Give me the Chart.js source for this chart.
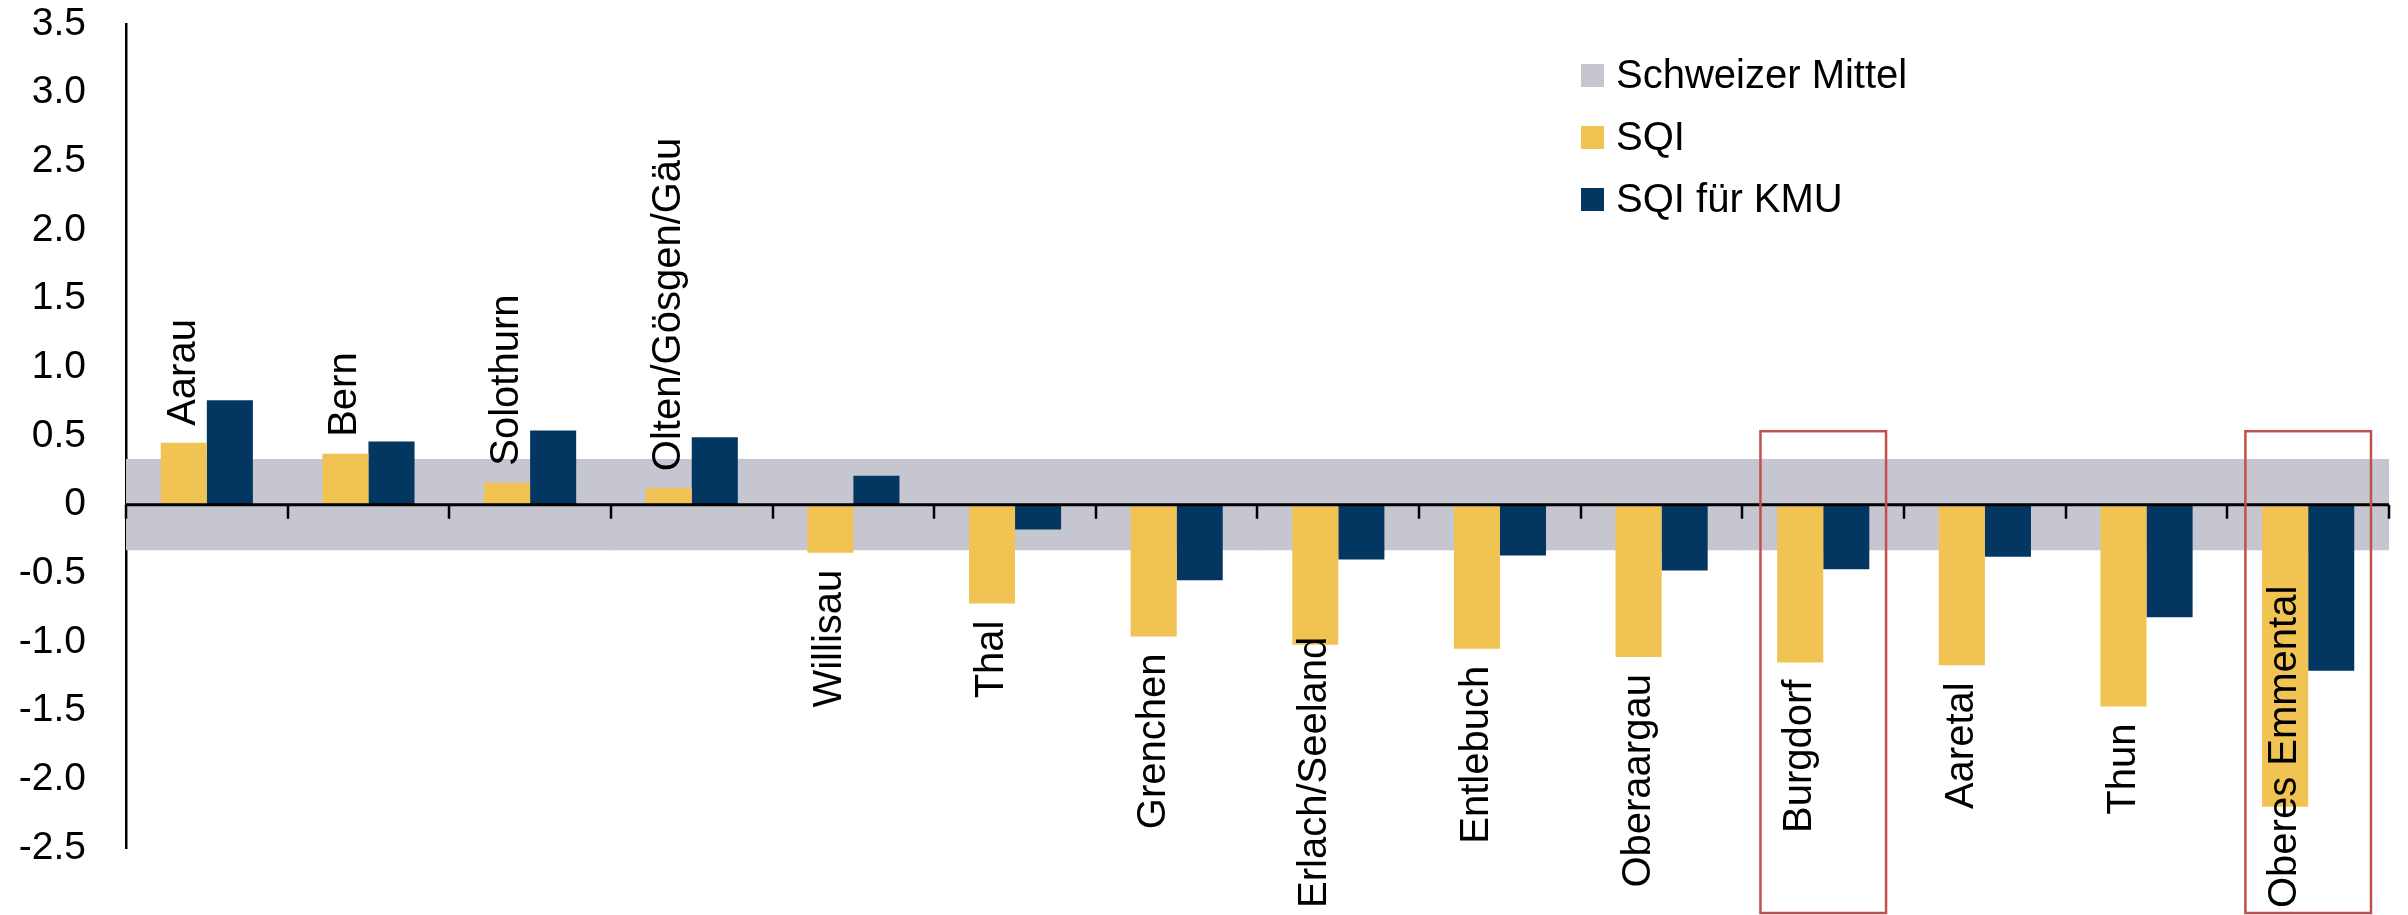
<!DOCTYPE html>
<html>
<head>
<meta charset="utf-8">
<script src="https://cdn.jsdelivr.net/npm/chart.js@4.4.1/dist/chart.umd.min.js"></script>
<style>
  html, body { margin: 0; padding: 0; background: #fff; }
  canvas { display: block; }
</style>
</head>
<body>
<canvas id="c" width="2408" height="915"></canvas>
<script>
// ---- data ----
const categories = ['Aarau', 'Bern', 'Solothurn', 'Olten/Gösgen/Gäu', 'Willisau', 'Thal', 'Grenchen',
  'Erlach/Seeland', 'Entlebuch', 'Oberaargau', 'Burgdorf', 'Aaretal', 'Thun', 'Oberes Emmental'];
const sqi = [0.45, 0.37, 0.16, 0.12, -0.35, -0.72, -0.96, -1.02, -1.05, -1.11, -1.15, -1.17, -1.47, -2.20];
const sqiKmu = [0.76, 0.46, 0.54, 0.49, 0.21, -0.18, -0.55, -0.40, -0.37, -0.48, -0.47, -0.38, -0.82, -1.21];
const mittelLow = -0.33;
const mittelHigh = 0.33;
const highlighted = ['Burgdorf', 'Oberes Emmental'];
const yTicks = [3.5, 3.0, 2.5, 2.0, 1.5, 1.0, 0.5, 0, -0.5, -1.0, -1.5, -2.0, -2.5];
const seriesNames = ['Schweizer Mittel', 'SQI', 'SQI für KMU'];

const FONT = '"Liberation Sans", Arial, Helvetica, sans-serif';
const colors = ['#C5C6D0', '#F0C353', '#033762'];

const bandData = categories.map(() => [mittelLow, mittelHigh]);

// category axis drawn through the zero value of the y scale, with boundary tick marks
const zeroAxisPlugin = {
  id: 'zeroAxis',
  afterDatasetsDraw(chart, args, opts) {
    const xs = chart.scales.x, ys = chart.scales.y;
    const ctx = chart.ctx;
    const y0 = ys.getPixelForValue(0);
    const catW = xs.width / categories.length;
    ctx.save();
    ctx.strokeStyle = '#000';
    ctx.lineWidth = 3;
    ctx.beginPath();
    ctx.moveTo(xs.left, y0);
    ctx.lineTo(xs.right, y0);
    ctx.stroke();
    ctx.lineWidth = 2.5;
    ctx.beginPath();
    for (let i = 0; i <= categories.length; i++) {
      const x = Math.round(xs.getPixelForValue(i) - catW / 2);
      ctx.moveTo(x, y0);
      ctx.lineTo(x, y0 + opts.tickLength);
    }
    ctx.stroke();
    ctx.restore();
  }
};

// category labels placed at end of SQI bars
const catLabelPlugin = {
  id: 'catLabels',
  afterDraw(chart) {
    const meta = chart.getDatasetMeta(1);
    const ctx = chart.ctx;
    const gap = 17;
    const limit = chart.height - 7;
    ctx.save();
    ctx.font = '40px ' + FONT;
    ctx.fillStyle = '#000';
    ctx.textBaseline = 'middle';
    ctx.textAlign = 'left';
    meta.data.forEach((bar, i) => {
      const text = categories[i];
      const w = ctx.measureText(text).width;
      let startY;
      if (sqi[i] >= 0) {
        startY = bar.y - gap;
      } else {
        startY = Math.min(bar.y + gap + w, limit);
      }
      ctx.save();
      ctx.translate(bar.x, startY);
      ctx.rotate(-Math.PI / 2);
      ctx.fillText(text, 0, 0);
      ctx.restore();
    });
    ctx.restore();
  }
};

// red highlight frames around selected categories
const highlightPlugin = {
  id: 'highlight',
  afterDraw(chart, args, opts) {
    const xs = chart.scales.x, ys = chart.scales.y;
    const ctx = chart.ctx;
    const catW = xs.width / categories.length;
    ctx.save();
    ctx.strokeStyle = '#C0504D';
    ctx.lineWidth = 2.5;
    highlighted.forEach(name => {
      const idx = categories.indexOf(name);
      const cx = xs.getPixelForValue(idx);
      const w = catW * opts.widthFrac;
      const top = ys.getPixelForValue(opts.topValue);
      const bottom = chart.height - 2;
      ctx.strokeRect(cx - w / 2, top, w, bottom - top);
    });
    ctx.restore();
  }
};

// custom legend (vertical, top-right inside the plot)
const legendPlugin = {
  id: 'customLegend',
  afterDraw(chart, args, opts) {
    const ctx = chart.ctx;
    ctx.save();
    ctx.font = '40px ' + FONT;
    ctx.textBaseline = 'middle';
    ctx.textAlign = 'left';
    chart.data.datasets.forEach((ds, i) => {
      const cy = opts.y + i * opts.spacing;
      ctx.fillStyle = ds.backgroundColor;
      ctx.fillRect(opts.x, cy - opts.box / 2, opts.box, opts.box);
      ctx.fillStyle = '#000';
      ctx.fillText(ds.label, opts.x + opts.box + 12, cy + 1);
    });
    ctx.restore();
  }
};

new Chart(document.getElementById('c'), {
  type: 'bar',
  data: {
    labels: categories,
    datasets: [
      {
        label: seriesNames[0],
        data: bandData,
        backgroundColor: colors[0],
        grouped: false,
        barPercentage: 1.0,
        categoryPercentage: 1.0,
        order: 3
      },
      {
        label: seriesNames[1],
        data: sqi,
        backgroundColor: colors[1],
        barPercentage: 1.0,
        categoryPercentage: 0.57,
        order: 1
      },
      {
        label: seriesNames[2],
        data: sqiKmu,
        backgroundColor: colors[2],
        barPercentage: 1.0,
        categoryPercentage: 0.57,
        order: 2
      }
    ]
  },
  options: {
    responsive: false,
    animation: false,
    devicePixelRatio: 1,
    layout: { padding: { left: 0, top: 24, right: 19, bottom: 67 } },
    plugins: {
      legend: { display: false },
      tooltip: { enabled: false },
      zeroAxis: { tickLength: 14 },
      highlight: { widthFrac: 0.777, topValue: 0.535 },
      customLegend: { x: 1581, y: 75.5, spacing: 62, box: 23 }
    },
    scales: {
      x: {
        display: false,
        offset: true
      },
      y: {
        position: 'left',
        z: 1,
        min: -2.5,
        max: 3.5,
        afterBuildTicks(scale) {
          scale.ticks = yTicks.map(v => ({ value: v }));
        },
        afterFit(scale) {
          scale.width = 126;
          scale.paddingTop = 0;
          scale.paddingBottom = 0;
        },
        ticks: {
          padding: 40,
          color: '#000',
          font: { family: FONT, size: 39 },
          callback: v => (v === 0 ? '0' : Number(v).toFixed(1))
        },
        grid: { display: true, drawOnChartArea: false, drawTicks: false },
        border: { display: true, color: '#000', width: 2.5 }
      }
    }
  },
  plugins: [zeroAxisPlugin, catLabelPlugin, highlightPlugin, legendPlugin]
});
</script>
</body>
</html>
